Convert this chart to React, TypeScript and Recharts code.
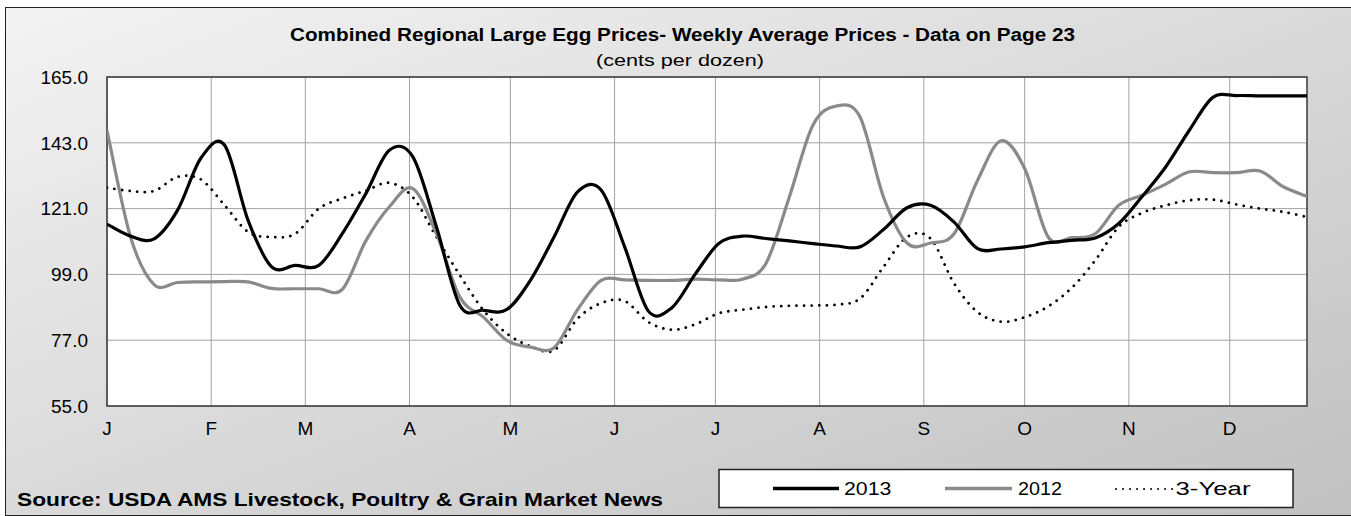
import React from 'react';
import { LineChart, Line, XAxis, YAxis, CartesianGrid, ReferenceArea } from 'recharts';

const FONT = '"Liberation Sans", Arial, Helvetica, sans-serif';

// day-of-year of each weekly observation
const days = [0, 7, 14, 21, 28, 35, 42, 49, 56, 63, 70, 77, 84, 91, 98, 105, 112, 119, 126, 133, 140, 147, 154, 161, 168, 175, 182, 189, 196, 203, 210, 217, 224, 231, 238, 245, 252, 259, 266, 273, 280, 287, 294, 301, 308, 315, 322, 329, 336, 343, 350, 357];

const prices2013 = [115.8, 111.8, 110.9, 120.5, 138.0, 142.2, 117.0, 101.5, 102.0, 102.0, 112.6, 126.0, 140.5, 138.3, 114.9, 88.6, 87.0, 87.3, 97.1, 111.5, 126.6, 127.2, 108.2, 86.8, 87.8, 99.1, 109.3, 111.8, 111.0, 110.2, 109.3, 108.5, 108.2, 114.0, 121.3, 122.1, 116.5, 107.6, 107.5, 108.2, 109.6, 110.4, 111.2, 116.0, 125.1, 135.0, 147.2, 158.2, 158.8, 158.7, 158.7, 158.7];

const prices2012 = [147.2, 111.5, 95.6, 96.3, 96.5, 96.6, 96.5, 94.3, 94.2, 94.2, 94.0, 110.2, 121.6, 127.7, 112.6, 91.4, 84.7, 76.9, 74.7, 74.5, 87.2, 97.0, 97.2, 97.0, 97.0, 97.4, 97.2, 97.4, 102.6, 124.9, 148.9, 155.3, 151.7, 124.9, 109.5, 109.5, 112.6, 130.5, 143.7, 134.4, 111.5, 111.3, 112.6, 122.1, 125.5, 129.2, 133.3, 133.0, 133.0, 133.6, 128.3, 125.1];

const prices3Year = [128.0, 126.9, 126.9, 131.6, 130.7, 122.1, 113.2, 111.5, 112.6, 121.0, 124.4, 127.0, 129.6, 124.8, 111.5, 98.7, 87.0, 79.2, 75.0, 73.6, 84.2, 89.4, 90.1, 83.1, 80.5, 82.3, 86.0, 87.2, 88.1, 88.5, 88.6, 88.9, 90.9, 101.5, 111.5, 111.0, 96.0, 86.4, 83.2, 84.7, 88.3, 94.5, 103.7, 114.9, 119.6, 122.1, 123.8, 124.0, 122.4, 121.0, 119.9, 118.2];

const seriesNames = ['2013', '2012', '3-Year'];
const monthTicks = [0, 31, 59, 90, 120, 151, 181, 212, 243, 273, 304, 334];
const monthLabels = ['J', 'F', 'M', 'A', 'M', 'J', 'J', 'A', 'S', 'O', 'N', 'D'];
const yTicks = [55, 77, 99, 121, 143, 165];
const xDomain = [0, 357];
const yDomain = [55, 165];

const titleText = 'Combined Regional Large Egg Prices- Weekly Average Prices - Data on Page 23';
const subtitleText = '(cents per dozen)';
const sourceText = 'Source: USDA AMS Livestock, Poultry & Grain Market News';

const data = days.map((d, i) => ({
  day: d,
  s2013: prices2013[i],
  s2012: prices2012[i],
  s3yr: prices3Year[i],
}));

// Excel-like smoothed line (Catmull-Rom through every point)
function excelSmooth(context: any) {
  let pts: number[][] = [];
  return {
    areaStart() {},
    areaEnd() {},
    lineStart() {
      pts = [];
    },
    point(x: number, y: number) {
      pts.push([+x, +y]);
    },
    lineEnd() {
      const n = pts.length;
      if (!n) return;
      context.moveTo(pts[0][0], pts[0][1]);
      if (n === 1) return;
      for (let i = 0; i < n - 1; i++) {
        const p0 = pts[i - 1] || pts[i];
        const p1 = pts[i];
        const p2 = pts[i + 1];
        const p3 = pts[i + 2] || pts[i + 1];
        const c1x = p1[0] + (p2[0] - p0[0]) / 6;
        const c1y = p1[1] + (p2[1] - p0[1]) / 6;
        const c2x = p2[0] - (p3[0] - p1[0]) / 6;
        const c2y = p2[1] - (p3[1] - p1[1]) / 6;
        context.bezierCurveTo(c1x, c1y, c2x, c2y, p2[0], p2[1]);
      }
    },
  };
}

const W = 1351;
const H = 516;

export default function App() {
  return (
    <div style={{ position: 'absolute', left: 0, top: 0, width: W, height: H, overflow: 'hidden', fontFamily: FONT }}>
      <div
        style={{
          position: 'absolute',
          left: 5,
          top: 7,
          width: W + 20,
          height: H - 7,
          boxSizing: 'border-box',
          border: '1.5px solid #222',
          background: 'linear-gradient(to bottom right, #f3f3f3, #c0c0c0)',
        }}
      />
      <div style={{ position: 'absolute', left: 0, top: 0 }}>
        <LineChart width={W} height={H} data={data} margin={{ top: 77, right: 44, bottom: 0, left: 0 }}>
          <CartesianGrid stroke="#a3a3a3" strokeWidth={1} fill="#ffffff" fillOpacity={1} syncWithTicks />
          <XAxis
            dataKey="day"
            type="number"
            domain={xDomain}
            ticks={monthTicks}
            interval={0}
            allowDataOverflow
            height={110}
            axisLine={false}
            tickLine={false}
            tickSize={6}
            tickMargin={10}
            tickFormatter={(v: number) => monthLabels[monthTicks.indexOf(v)] ?? ''}
            tick={{ fill: '#000', fontSize: 19, fontFamily: FONT }}
          />
          <YAxis
            type="number"
            domain={yDomain}
            ticks={yTicks}
            interval={0}
            allowDataOverflow
            width={107}
            axisLine={false}
            tickLine={false}
            tickSize={6}
            tickMargin={13}
            tickFormatter={(v: number) => v.toFixed(1)}
            tick={{ fill: '#000', fontSize: 19, fontFamily: FONT }}
          />
          <ReferenceArea
            x1={xDomain[0]}
            x2={xDomain[1]}
            y1={yDomain[0]}
            y2={yDomain[1]}
            fill="none"
            fillOpacity={0}
            stroke="#3a3a3a"
            strokeWidth={1.5}
            ifOverflow="visible"
          />
          <Line
            name={seriesNames[2]}
            dataKey="s3yr"
            type={excelSmooth as any}
            stroke="#000"
            strokeWidth={2.8}
            strokeDasharray="0.01 7.6"
            strokeLinecap="round"
            dot={false}
            activeDot={false}
            isAnimationActive={false}
          />
          <Line
            name={seriesNames[1]}
            dataKey="s2012"
            type={excelSmooth as any}
            stroke="#8a8a8a"
            strokeWidth={3.2}
            dot={false}
            activeDot={false}
            isAnimationActive={false}
          />
          <Line
            name={seriesNames[0]}
            dataKey="s2013"
            type={excelSmooth as any}
            stroke="#000"
            strokeWidth={3.2}
            dot={false}
            activeDot={false}
            isAnimationActive={false}
          />
        </LineChart>
      </div>
      <svg width={W} height={H} style={{ position: 'absolute', left: 0, top: 0, pointerEvents: 'none' }}>
        <text x={290} y={40.5} fontFamily={FONT} fontWeight="bold" fontSize={17.5} fill="#000" textLength={785} lengthAdjust="spacingAndGlyphs">
          {titleText}
        </text>
        <text x={596} y={66} fontFamily={FONT} fontSize={16.5} fill="#000" textLength={168} lengthAdjust="spacingAndGlyphs">
          {subtitleText}
        </text>
        <text x={17} y={506} fontFamily={FONT} fontWeight="bold" fontSize={18.5} fill="#000" textLength={646} lengthAdjust="spacingAndGlyphs">
          {sourceText}
        </text>
        <rect x={719} y={469.5} width={574} height={38} fill="#fff" stroke="#222" strokeWidth={1.5} />
        <line x1={773} y1={488.5} x2={839} y2={488.5} stroke="#000" strokeWidth={3.5} />
        <text x={844} y={495} fontFamily={FONT} fontSize={18.5} fill="#000" textLength={47.5} lengthAdjust="spacingAndGlyphs">
          {seriesNames[0]}
        </text>
        <line x1={945} y1={488.5} x2={1012} y2={488.5} stroke="#8a8a8a" strokeWidth={3.5} />
        <text x={1018} y={495} fontFamily={FONT} fontSize={18.5} fill="#000" textLength={44} lengthAdjust="spacingAndGlyphs">
          {seriesNames[1]}
        </text>
        <line x1={1116} y1={489} x2={1173} y2={489} stroke="#000" strokeWidth={2} strokeDasharray="0.01 7" strokeLinecap="round" />
        <text x={1175.5} y={495} fontFamily={FONT} fontSize={18.5} fill="#000" textLength={75} lengthAdjust="spacingAndGlyphs">
          {seriesNames[2]}
        </text>
      </svg>
    </div>
  );
}
